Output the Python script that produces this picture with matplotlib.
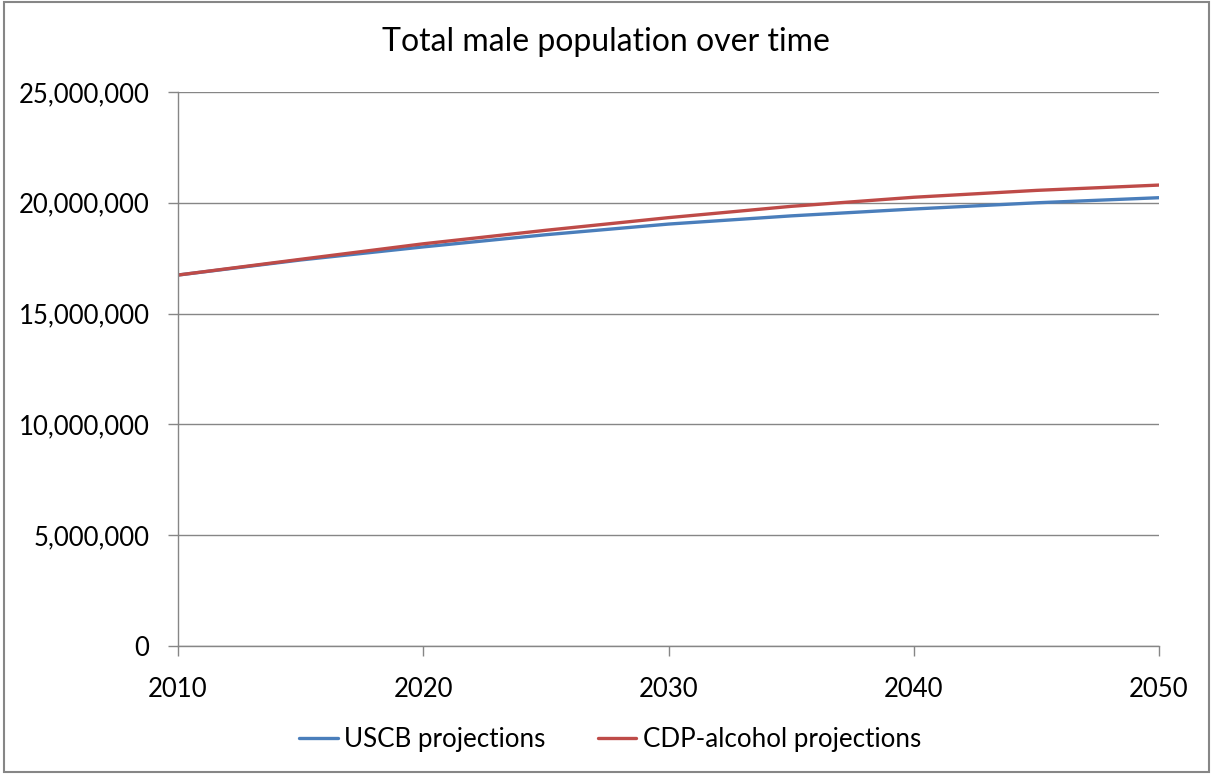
import matplotlib
matplotlib.use("Agg")
import matplotlib.pyplot as plt
from matplotlib.ticker import FuncFormatter, MultipleLocator
from matplotlib.patches import Rectangle

years = [2010, 2015, 2020, 2025, 2030, 2035, 2040, 2045, 2050]
uscb = [16.74e6, 17.42e6, 18.01e6, 18.56e6, 19.04e6, 19.41e6, 19.72e6, 20.00e6, 20.23e6]
cdp = [16.74e6, 17.45e6, 18.15e6, 18.76e6, 19.33e6, 19.84e6, 20.25e6, 20.56e6, 20.80e6]
series_names = ["USCB projections", "CDP-alcohol projections"]

plt.rcParams['font.family'] = ['Lato', 'DejaVu Sans']

fig = plt.figure(figsize=(12.13, 7.74), dpi=100)
ax = fig.add_axes([178/1213, 1-646/774, (1159-178)/1213, (646-92)/774])

ax.plot(years, uscb, color='#4A7EBB', lw=2.4, label=series_names[0], solid_capstyle='round')
ax.plot(years, cdp, color='#BE4B48', lw=2.4, label=series_names[1], solid_capstyle='round')

ax.set_xlim(2010, 2050)
ax.set_ylim(0, 25e6)
ax.xaxis.set_major_locator(MultipleLocator(10))
ax.yaxis.set_major_locator(MultipleLocator(5e6))
ax.yaxis.set_major_formatter(FuncFormatter(lambda v, p: f"{int(v):,}"))
ax.grid(axis='y', color='#868686', lw=1)
ax.set_axisbelow(True)
for s in ['top', 'right']:
    ax.spines[s].set_visible(False)
for s in ['left', 'bottom']:
    ax.spines[s].set_color('#868686')
    ax.spines[s].set_linewidth(1)
ax.tick_params(axis='both', colors='#868686', labelcolor='black', labelsize=18.5, length=7, width=1)
ax.tick_params(axis='x', pad=15)
ax.tick_params(axis='y', pad=13.5)

fig.text(606/1213, 1-42/774, "Total male population over time", ha='center', va='center', fontsize=23)

leg = fig.legend(loc='center', bbox_to_anchor=(610/1213, 1-740/774), ncol=2, frameon=False,
                 fontsize=18.7, handlelength=1.5, handletextpad=0.25, columnspacing=2.0)

fig.patches.append(Rectangle((0.003, 0.002), 0.994, 0.995, transform=fig.transFigure,
                             fill=False, edgecolor='#868686', lw=1.5))

fig.savefig("out.png", dpi=100, facecolor='white')
